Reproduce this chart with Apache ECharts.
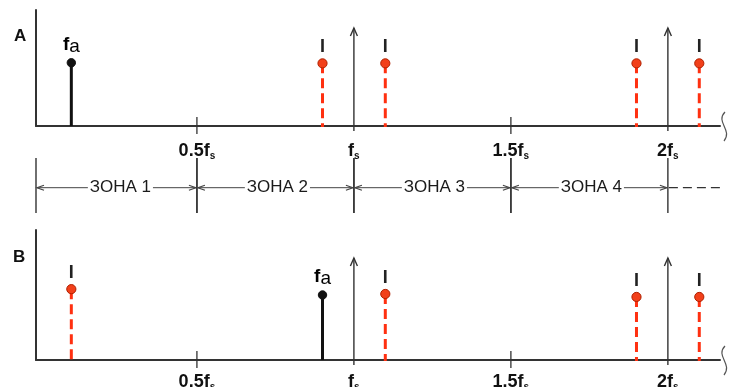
<!DOCTYPE html>
<html><head><meta charset="utf-8">
<script src="https://cdn.jsdelivr.net/npm/echarts@6/dist/echarts.min.js"></script>
<style>html,body{margin:0;padding:0;background:#fff}#c{width:730px;height:387px}</style>
</head><body><div id="c"></div>
<script>
// ---- data (frequency in units of fs, amplitude 0..1) ----
const xMin = -0.0125, xMax = 2.166;
const tickValues = [0.5, 1, 1.5, 2];
const tickLabels = ['0.5f', 'f', '1.5f', '2f'];     // each followed by subscript "s"
const arrowValues = [1, 2];                          // sampling frequency markers
const minorTickValues = [0.5, 1.5];
const signalA = [[0.1, 0.545]];
const imagesA = [[0.9, 0.54], [1.1, 0.54], [1.9, 0.54], [2.1, 0.54]];
const signalB = [[0.9, 0.50]];
const imagesB = [[0.1, 0.545], [1.1, 0.508], [1.9, 0.485], [2.1, 0.485]];
const zoneEdges = [0, 0.5, 1, 1.5, 2];
const zoneNames = ['ЗОНА 1', 'ЗОНА 2', 'ЗОНА 3', 'ЗОНА 4'];
const panelNames = ['A', 'B'];

// ---- styling ----
const FONT = '"Liberation Sans", Arial, sans-serif';
const AX = '#333';
const RED = '#ff3010';
const measure = (() => { const c = document.createElement('canvas').getContext('2d');
  return (t, f) => { c.font = f; return c.measureText(t).width; }; })();

const chart = echarts.init(document.getElementById('c'), null, {renderer: 'canvas'});

const grids = [
  {left: 36, right: 10, top: 10, height: 116, outerBoundsMode: 'none', containLabel: false},
  {left: 36, right: 10, top: 158, height: 55, outerBoundsMode: 'none', containLabel: false},
  {left: 36, right: 10, top: 230, height: 130, outerBoundsMode: 'none', containLabel: false}
];

const labelRich = {
  m: {fontFamily: FONT, fontWeight: 'bold', fontSize: 18, color: '#111'},
  s: {fontFamily: FONT, fontWeight: 'bold', fontSize: 10, color: '#111', padding: [9, 0, 0, 0]}
};

function xAxisFor(i, show, margin) {
  return {
    gridIndex: i, type: 'value', min: xMin, max: xMax, show: show,
    axisLine: {show: true, onZero: false, lineStyle: {color: AX, width: 2}},
    axisTick: {show: false}, splitLine: {show: false},
    axisLabel: {
      show: true, customValues: tickValues, margin: margin, hideOverlap: false,
      formatter: v => { const k = tickValues.indexOf(v); return k < 0 ? '' : '{m|' + tickLabels[k] + '}{s|s}'; },
      rich: labelRich
    }
  };
}
function yAxisFor(i, show) {
  return {
    gridIndex: i, type: 'value', min: 0, max: 1, show: show,
    axisLine: {show: true, onZero: false, lineStyle: {color: AX, width: 2}},
    axisTick: {show: false}, axisLabel: {show: false}, splitLine: {show: false}
  };
}

function stemSeries(grid, data, kind) {
  const isSig = kind === 'sig';
  return {
    type: 'custom', xAxisIndex: grid, yAxisIndex: grid, clip: false, z: 5,
    data: data,
    renderItem: (params, api) => {
      const x = api.value(0), y = api.value(1);
      const p0 = api.coord([x, 0]), p1 = api.coord([x, y]);
      const children = [
        {type: 'line', shape: {x1: p1[0], y1: p1[1], x2: p0[0], y2: p0[1] + (isSig ? 0 : 1)},
         style: {stroke: isSig ? '#111' : RED, lineWidth: 3, lineDash: isSig ? null : [10, 5]}},
        {type: 'circle', shape: {cx: p1[0], cy: p1[1], r: isSig ? 4.2 : 4.6},
         style: {fill: isSig ? '#111' : '#f2401a', stroke: isSig ? '#111' : '#b02000', lineWidth: 1}}
      ];
      if (isSig) {
        children.push({type: 'text', x: p1[0], y: p1[1] - 18,
          style: {text: '{f|f}{a|a}', align: 'center', verticalAlign: 'middle',
            rich: {f: {fontFamily: FONT, fontWeight: 'bold', fontSize: 19, color: '#111'},
                   a: {fontFamily: FONT, fontSize: 19, color: '#111', padding: [4, 0, 0, 0]}}}});
      } else {
        children.push({type: 'text', x: p1[0], y: p1[1] - 16,
          style: {text: 'I', align: 'center', verticalAlign: 'middle',
            font: 'bold 18px ' + FONT, fill: '#222'}});
      }
      return {type: 'group', children: children};
    }
  };
}

function markerSeries(grid, arrowTop) {
  const items = minorTickValues.map(v => [v, 0, 0]).concat(arrowValues.map(v => [v, 0, 1])).concat([[xMax, 0, 2]]);
  return {
    type: 'custom', xAxisIndex: grid, yAxisIndex: grid, clip: false, z: 4,
    data: items,
    renderItem: (params, api) => {
      const x = api.value(0), kind = api.value(2);
      const p = api.coord([x, 0]);
      if (kind === 0) {
        return {type: 'line', shape: {x1: p[0], y1: p[1] - 9, x2: p[0], y2: p[1] + 8},
          style: {stroke: AX, lineWidth: 1.3}};
      }
      if (kind === 1) {
        const t = api.coord([x, arrowTop]);
        return {type: 'group', children: [
          {type: 'line', shape: {x1: p[0], y1: p[1] + 5, x2: t[0], y2: t[1]}, style: {stroke: AX, lineWidth: 1.4}},
          {type: 'polyline', shape: {points: [[t[0] - 3.5, t[1] + 8], [t[0], t[1]], [t[0] + 3.5, t[1] + 8]]},
           style: {stroke: AX, lineWidth: 1.4, fill: null}}
        ]};
      }
      return {type: 'bezierCurve',
        shape: {x1: p[0] + 5, y1: p[1] - 14, cpx1: p[0] - 5, cpy1: p[1] - 4, cpx2: p[0] + 13, cpy2: p[1] + 4, x2: p[0] + 4, y2: p[1] + 15},
        style: {stroke: '#555', lineWidth: 1.2, fill: null}};
    }
  };
}

const zoneFont = '17px ' + FONT;
const zoneSeries = {
  type: 'custom', xAxisIndex: 1, yAxisIndex: 1, clip: false,
  data: zoneNames.map((n, i) => [zoneEdges[i], zoneEdges[i + 1], i]),
  renderItem: (params, api) => {
    const i = api.value(2);
    const cs = params.coordSys;
    const xl = i === 0 ? cs.x : api.coord([api.value(0), 0])[0];
    const xr = api.coord([api.value(1), 0])[0];
    const yTop = cs.y, yBot = cs.y + cs.height;
    const ym = api.coord([0, 0.46])[1];
    const name = zoneNames[i];
    const w = measure(name, zoneFont);
    const xc = (api.coord([api.value(0), 0])[0] + xr) / 2 + 2;
    const tl = xc - w / 2 - 2, tr = xc + w / 2 + 2;
    const gray = '#444';
    const ch = [
      {type: 'line', shape: {x1: xl, y1: yTop, x2: xl, y2: yBot}, style: {stroke: AX, lineWidth: 1.4}},
      {type: 'line', shape: {x1: xr, y1: yTop, x2: xr, y2: yBot}, style: {stroke: AX, lineWidth: 1.4}},
      {type: 'line', shape: {x1: xl + 1, y1: ym, x2: tl, y2: ym}, style: {stroke: gray, lineWidth: 1}},
      {type: 'line', shape: {x1: tr, y1: ym, x2: xr - 1, y2: ym}, style: {stroke: gray, lineWidth: 1}},
      {type: 'polyline', shape: {points: [[xl + 8, ym - 2.5], [xl + 1, ym], [xl + 8, ym + 2.5]]}, style: {stroke: gray, lineWidth: 1.2, fill: null}},
      {type: 'polyline', shape: {points: [[xr - 8, ym - 2.5], [xr - 1, ym], [xr - 8, ym + 2.5]]}, style: {stroke: gray, lineWidth: 1.2, fill: null}},
      {type: 'text', x: xc, y: ym, style: {text: name, font: zoneFont, fill: '#1a1a1a', align: 'center', verticalAlign: 'middle'}}
    ];
    if (i === zoneNames.length - 1) {
      const xe = cs.x + cs.width;
      ch.push({type: 'line', shape: {x1: xr + 1, y1: ym, x2: xe, y2: ym}, style: {stroke: '#333', lineWidth: 1.2, lineDash: [9, 5]}});
    }
    return {type: 'group', children: ch};
  }
};

chart.setOption({
  animation: false,
  backgroundColor: '#fff',
  grid: grids,
  xAxis: [xAxisFor(0, true, 16), xAxisFor(1, false, 16), xAxisFor(2, true, 13)],
  yAxis: [yAxisFor(0, true), yAxisFor(1, false), yAxisFor(2, true)],
  graphic: [
    {type: 'text', left: 14, top: 28, style: {text: panelNames[0], font: 'bold 17px ' + FONT, fill: '#111'}},
    {type: 'text', left: 13, top: 249, style: {text: panelNames[1], font: 'bold 17px ' + FONT, fill: '#111'}}
  ],
  series: [
    markerSeries(0, 0.845),
    stemSeries(0, imagesA, 'img'),
    stemSeries(0, signalA, 'sig'),
    zoneSeries,
    markerSeries(2, 0.785),
    stemSeries(2, imagesB, 'img'),
    stemSeries(2, signalB, 'sig')
  ]
});
</script></body></html>
